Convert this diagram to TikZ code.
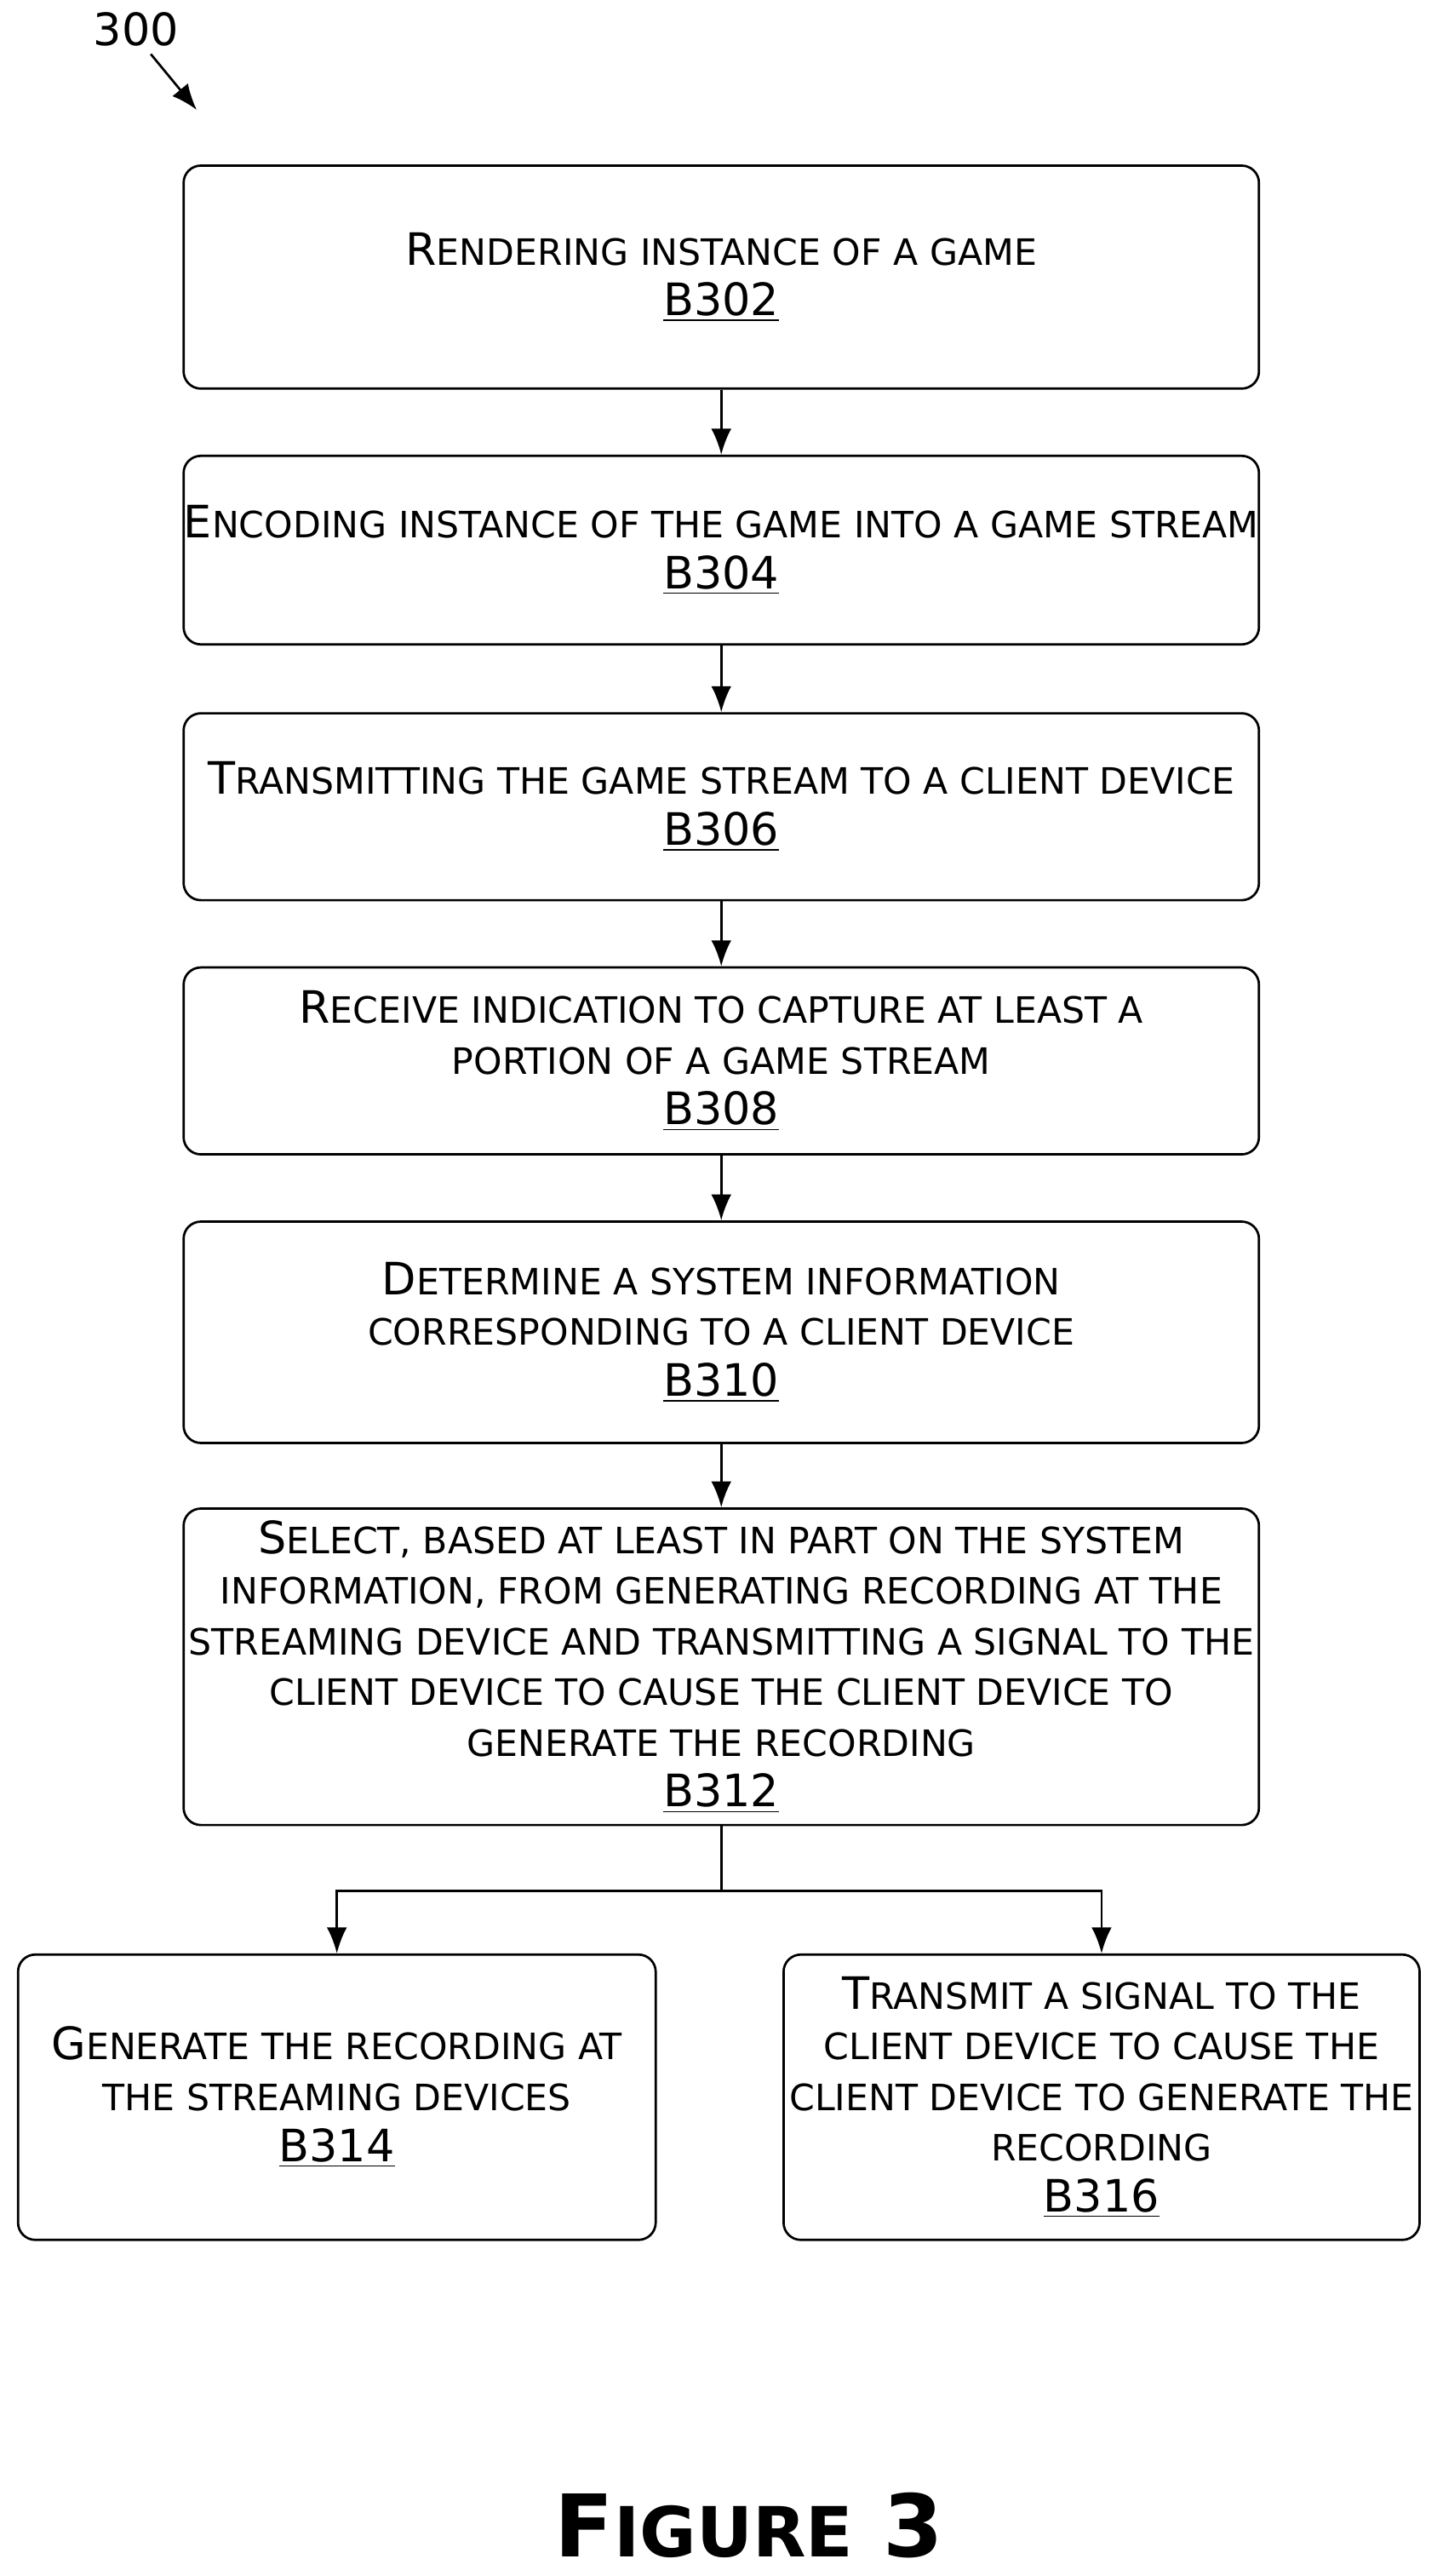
\documentclass[tikz,border=0pt]{standalone}
\usepackage{fontspec}
\setmainfont{DejaVu Sans}
\usetikzlibrary{arrows.meta}
\newcommand{\Sc}[2]{#1{\fontsize{12.6}{17.6}\selectfont\MakeUppercase{#2}}}
\tikzset{
	stepbox/.style={draw, thick, rounded corners=6pt, align=center, inner sep=0pt,
		font=\fontsize{15.5}{17.6}\selectfont},
	flow/.style={thick, -{Latex[length=9pt,width=7pt]}}
}
\begin{document}
\begin{tikzpicture}[x=0.02cm,y=-0.02cm]
	\useasboundingbox (0,0) rectangle (880,1571);
	\node[stepbox, minimum width=656*0.02cm, minimum height=136*0.02cm] (b302) at (440,169)
		{\Sc{R}{endering instance of a game}\\\underline{B302}};
	\node[stepbox, minimum width=656*0.02cm, minimum height=115*0.02cm] (b304) at (440,335.5)
		{\Sc{E}{ncoding instance of the game into a game stream}\\\underline{B304}};
	\node[stepbox, minimum width=656*0.02cm, minimum height=114*0.02cm] (b306) at (440,492)
		{\Sc{T}{ransmitting the game stream to a client device}\\\underline{B306}};
	\node[stepbox, minimum width=656*0.02cm, minimum height=114*0.02cm] (b308) at (440,647)
		{\Sc{R}{eceive indication to capture at least a}\\\Sc{}{portion of a game stream}\\\underline{B308}};
	\node[stepbox, minimum width=656*0.02cm, minimum height=135*0.02cm] (b310) at (440,812.5)
		{\Sc{D}{etermine a system information}\\\Sc{}{corresponding to a client device}\\\underline{B310}};
	\node[stepbox, minimum width=656*0.02cm, minimum height=193*0.02cm] (b312) at (440,1016.5)
		{\Sc{S}{elect, based at least in part on the system}\\\Sc{}{information, from generating recording at the}\\\Sc{}{streaming device and transmitting a signal to the}\\\Sc{}{client device to cause the client device to}\\\Sc{}{generate the recording}\\\underline{B312}};
	\node[stepbox, minimum width=389*0.02cm, minimum height=174*0.02cm] (b314) at (205.5,1279)
		{\Sc{G}{enerate the recording at}\\\Sc{}{the streaming devices}\\\underline{B314}};
	\node[stepbox, minimum width=388*0.02cm, minimum height=174*0.02cm] (b316) at (672,1279)
		{\Sc{T}{ransmit a signal to the}\\\Sc{}{client device to cause the}\\\Sc{}{client device to generate the}\\\Sc{}{recording}\\\underline{B316}};
	% vertical flow
	\draw[flow] (b302) -- (b304);
	\draw[flow] (b304) -- (b306);
	\draw[flow] (b306) -- (b308);
	\draw[flow] (b308) -- (b310);
	\draw[flow] (b310) -- (b312);
	% branch
	\coordinate (split) at (440,1153);
	\draw[thick] (b312.south) -- (split);
	\draw[flow] (split) -| (b314.north);
	\draw[flow] (split) -| (b316.north);
	% labels
	\node[font=\fontsize{15.5}{17.6}\selectfont] (ref) at (83,18) {300};
	\coordinate (tip) at (120,67);
	\draw[flow] (92,33) -- (tip);
	\node[font=\bfseries\fontsize{30}{34}\selectfont] (fig) at (457,1540)
		{F{\fontsize{24}{30}\selectfont IGURE} 3};
\end{tikzpicture}
\end{document}
